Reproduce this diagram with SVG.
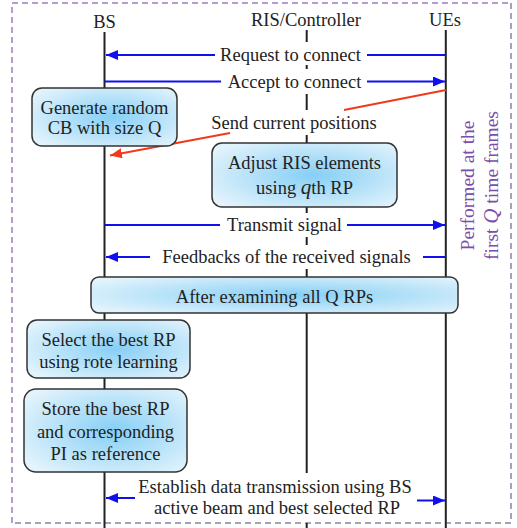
<svg xmlns="http://www.w3.org/2000/svg" width="517" height="528" viewBox="0 0 517 528">
<defs>
<radialGradient id="boxg" cx="55%" cy="50%" r="65%">
<stop offset="0" stop-color="#86cff5"/>
<stop offset="1" stop-color="#e2f3fc"/>
</radialGradient>
<marker id="ab" viewBox="0 0 12 10" refX="12" refY="5" markerWidth="12" markerHeight="10" markerUnits="userSpaceOnUse" orient="auto">
<path d="M0,0 L12,5 L0,10 Z" fill="#1010ee"/>
</marker>
<marker id="ar" viewBox="0 0 12 10" refX="12" refY="5" markerWidth="12" markerHeight="10" markerUnits="userSpaceOnUse" orient="auto">
<path d="M0,0 L12,5 L0,10 Z" fill="#f03a1a"/>
</marker>
</defs>
<style>
text{font-family:'Liberation Serif',serif;font-size:18.5px;fill:#222;text-anchor:middle}
.life{stroke:#222;stroke-width:2;fill:none}
.blue{stroke:#1010ee;stroke-width:2;fill:none}
.red{stroke:#f03a1a;stroke-width:2;fill:none}
.box{fill:url(#boxg);stroke:#333;stroke-width:1.5}
.purple{fill:#7c4dab;font-size:19.5px}
.frame{fill:none;stroke-width:1.5;stroke-dasharray:6,4}
</style>
<path class="frame" d="M12,523 V3 H511" stroke="#9a7cc4"/>
<path class="frame" d="M511,3 V523 H12" stroke="#8c84a2"/>
<g id="headers">
<text x="104.5" y="28">BS</text>
<text x="306" y="26">RIS/Controller</text>
<text x="445" y="26">UEs</text>
</g>
<g id="lifelines">
<line class="life" x1="104.5" y1="32" x2="104.5" y2="528"/>
<line class="life" x1="445.8" y1="30" x2="445.8" y2="528"/>
<path class="life" d="M306.7,30 V42 M306.7,65 V69 M306.7,94 V110 M306.7,135 V143 M306.7,207 V213 M306.7,237 V245 M306.7,269 V277 M306.7,313 V473 M306.7,523 V528"/>
</g>
<g id="connectors">
<path class="blue" d="M445.8,55 H367"/>
<path class="blue" d="M215,55 H106" marker-end="url(#ab)"/>
<path class="blue" d="M104.5,81.5 H221"/>
<path class="blue" d="M367,81.5 H445" marker-end="url(#ab)"/>
<path class="red" d="M446,90 L344,110"/>
<path class="red" d="M230,133 L110,155.5" marker-end="url(#ar)"/>
<path class="blue" d="M104.5,225 H220"/>
<path class="blue" d="M347,225 H445" marker-end="url(#ab)"/>
<path class="blue" d="M446,257 H423"/>
<path class="blue" d="M150,257 H106" marker-end="url(#ab)"/>
<path class="blue" d="M135,498 H106" marker-end="url(#ab)"/>
<path class="blue" d="M417,500.5 H445" marker-end="url(#ab)"/>
</g>
<g id="labels">
<text x="290.5" y="61">Request to connect</text>
<text x="294.5" y="88">Accept to connect</text>
<text x="294" y="129">Send current positions</text>
<text x="284.5" y="231">Transmit signal</text>
<text x="286.5" y="263">Feedbacks of the received signals</text>
<text x="275" y="493">Establish data transmission using BS</text>
<text x="277" y="514">active beam and best selected RP</text>
</g>
<g id="generate">
<rect class="box" x="32" y="88" width="145" height="58" rx="10"/>
<text x="104.5" y="114">Generate random</text>
<text x="104.5" y="134">CB with size Q</text>
</g>
<g id="adjust">
<rect class="box" x="212" y="143" width="185" height="64" rx="10"/>
<text x="304.5" y="169">Adjust RIS elements</text>
<text x="304.5" y="194">using <tspan font-style="italic" font-size="21px">q</tspan>th RP</text>
</g>
<g id="after">
<rect class="box" x="91" y="277" width="367" height="36" rx="8"/>
<text x="274.5" y="303">After examining all Q RPs</text>
</g>
<g id="select">
<rect class="box" x="27" y="320" width="163" height="58" rx="10"/>
<text x="108.5" y="346">Select the best RP</text>
<text x="108.5" y="368">using rote learning</text>
</g>
<g id="store">
<rect class="box" x="24" y="389" width="163" height="83" rx="12"/>
<text x="105.5" y="415">Store the best RP</text>
<text x="105.5" y="438">and corresponding</text>
<text x="105.5" y="460">PI as reference</text>
</g>
<g id="note">
<text class="purple" transform="translate(474,185.5) rotate(-90)">Performed at the</text>
<text class="purple" transform="translate(498,185.5) rotate(-90)">first <tspan font-style="italic" font-size="21px">Q</tspan> time frames</text>
</g>
</svg>
